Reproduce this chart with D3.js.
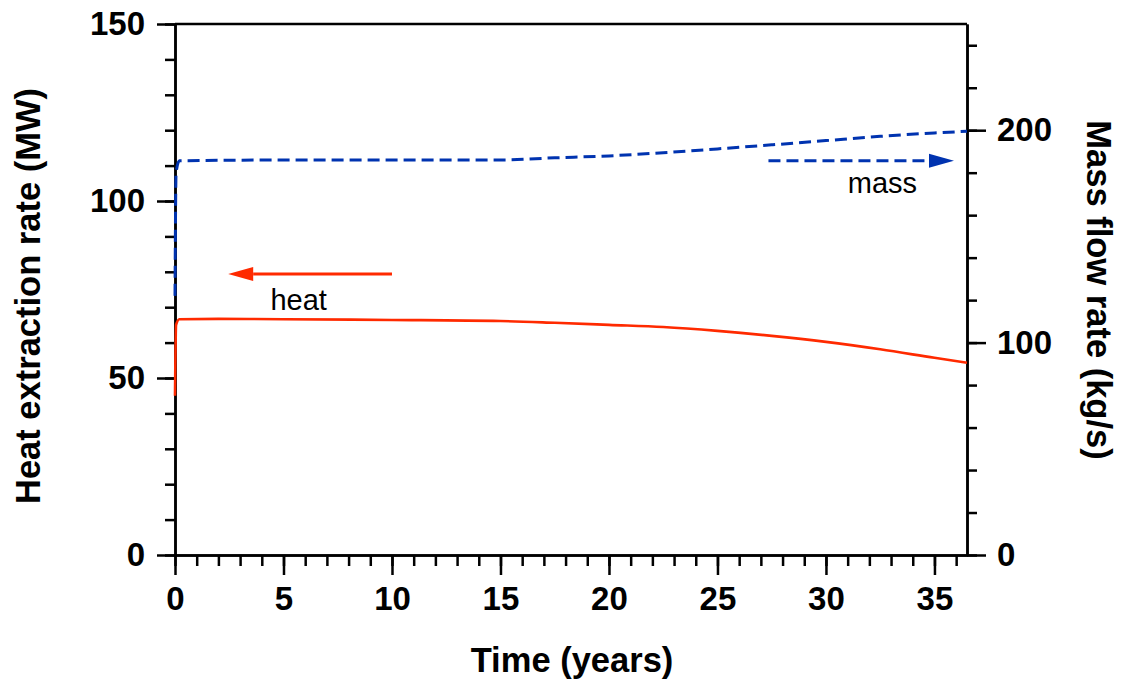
<!DOCTYPE html>
<html lang="en">
<head>
<meta charset="UTF-8">
<script src="https://d3js.org/d3.v7.min.js"></script>
<style>
    body {margin: 0; background: #ffffff}
    svg {display: block}
    text {font-family: "Liberation Sans", Arial, Helvetica, sans-serif}
    .axis path, .axis line {stroke: #000; stroke-width: 2.5}
    .axis text {font-size: 33px; font-weight: bold; fill: #000; font-family: "Liberation Sans", Arial, sans-serif}
</style>
</head>
<body>
<svg id="chart" width="1122" height="683"></svg>
<script>
    // values
    const years = [0, 0.05, 0.2, 2, 5, 10, 15, 17.5, 20, 22.5, 25, 27.5, 30, 32.5, 35, 36.5];
    const heat  = [45, 65, 66.6, 66.7, 66.6, 66.4, 66.1, 65.6, 65.0, 64.4, 63.3, 61.9, 60.2, 58.1, 55.7, 54.3];
    const mass  = [122, 180, 185.6, 185.8, 186, 186, 186, 187, 187.9, 189.4, 191.2, 193.1, 195.1, 197.1, 198.7, 199.5];

    const xTicks = [0, 5, 10, 15, 20, 25, 30, 35];
    const heatTicks = [0, 50, 100, 150];
    const massTicks = [0, 100, 200];

    // annotation arrows: [from year, to year, value]
    const heatArrow = [10, 2.45, 79.4];
    const massArrow = [27.35, 35.9, 185.6];

    const plotL = 175, plotR = 967, plotT = 24, plotB = 555;

    const svg = d3.select("#chart");

    const x = d3.scaleLinear().domain([0, 36.5]).range([plotL, plotR]);
    const yHeat = d3.scaleLinear().domain([0, 150]).range([plotB, plotT]);
    const yMass = d3.scaleLinear().domain([0, 250]).range([plotB, plotT]);

    // minor ticks first (no labels)
    svg.append("g").attr("class", "axis").attr("transform", `translate(${plotL},0)`)
        .call(d3.axisLeft(yHeat).tickValues(d3.range(0, 151, 10)).tickSize(10).tickSizeOuter(0).tickFormat(""));
    svg.append("g").attr("class", "axis").attr("transform", `translate(0,${plotB})`)
        .call(d3.axisBottom(x).tickValues(d3.range(0, 37, 1)).tickSize(11).tickSizeOuter(0).tickFormat(""));
    svg.append("g").attr("class", "axis").attr("transform", `translate(${plotR},0)`)
        .call(d3.axisRight(yMass).tickValues(d3.range(0, 250, 20)).tickSize(10).tickSizeOuter(0).tickFormat(""));

    // major ticks with labels
    svg.append("g").attr("class", "axis").attr("transform", `translate(${plotL},0)`)
        .call(d3.axisLeft(yHeat).tickValues(heatTicks).tickSize(18).tickPadding(12).tickSizeOuter(0));
    svg.append("g").attr("class", "axis").attr("transform", `translate(0,${plotB})`)
        .call(d3.axisBottom(x).tickValues(xTicks).tickSize(20).tickPadding(12).tickSizeOuter(0));
    svg.append("g").attr("class", "axis").attr("transform", `translate(${plotR},0)`)
        .call(d3.axisRight(yMass).tickValues(massTicks).tickSize(19).tickPadding(11).tickSizeOuter(0));

    // top frame line
    svg.append("line")
        .attr("x1", plotL).attr("x2", plotR)
        .attr("y1", plotT).attr("y2", plotT)
        .attr("stroke", "#000").attr("stroke-width", 2.5);

    // curves
    svg.append("path")
        .datum(years.map((t, i) => [t, heat[i]]))
        .attr("fill", "none").attr("stroke", "#ff2a00").attr("stroke-width", 2.6)
        .attr("d", d3.line().x(d => x(d[0])).y(d => yHeat(d[1])).curve(d3.curveMonotoneX));

    svg.append("path")
        .datum(years.map((t, i) => [t, mass[i]]))
        .attr("fill", "none").attr("stroke", "#0033b0").attr("stroke-width", 3)
        .attr("stroke-dasharray", "12,6")
        .attr("d", d3.line().x(d => x(d[0])).y(d => yMass(d[1])).curve(d3.curveMonotoneX));

    // arrows
    function arrow(x1, x2, y, color, dashed) {
        const dir = x2 > x1 ? 1 : -1;
        const headLen = 25, half = 7;
        svg.append("line")
            .attr("x1", x1).attr("x2", x2 - dir * headLen)
            .attr("y1", y).attr("y2", y)
            .attr("stroke", color).attr("stroke-width", 3)
            .attr("stroke-dasharray", dashed ? "12,6" : null);
        svg.append("path")
            .attr("d", `M${x2},${y}L${x2 - dir * headLen},${y - half}L${x2 - dir * headLen},${y + half}Z`)
            .attr("fill", color);
    }
    arrow(x(heatArrow[0]), x(heatArrow[1]), yHeat(heatArrow[2]), "#ff2a00", false);
    arrow(x(massArrow[0]), x(massArrow[1]), yMass(massArrow[2]), "#0033b0", true);

    svg.append("text").attr("x", x(5.7)).attr("y", yHeat(69.2))
        .attr("text-anchor", "middle").style("font-size", "29px").text("heat");
    svg.append("text").attr("x", x(32.6)).attr("y", yMass(170.4))
        .attr("text-anchor", "middle").style("font-size", "29px").text("mass");

    // axis titles
    svg.append("text")
        .attr("transform", "translate(40,296) rotate(-90)")
        .attr("text-anchor", "middle").style("font-size", "34.5px").style("font-weight", "bold")
        .text("Heat extraction rate (MW)");
    svg.append("text")
        .attr("transform", "translate(1087,290) rotate(90)")
        .attr("text-anchor", "middle").style("font-size", "34.5px").style("font-weight", "bold")
        .text("Mass flow rate (kg/s)");
    svg.append("text")
        .attr("x", 572).attr("y", 672)
        .attr("text-anchor", "middle").style("font-size", "34.5px").style("font-weight", "bold")
        .text("Time (years)");
</script>
</body>
</html>
